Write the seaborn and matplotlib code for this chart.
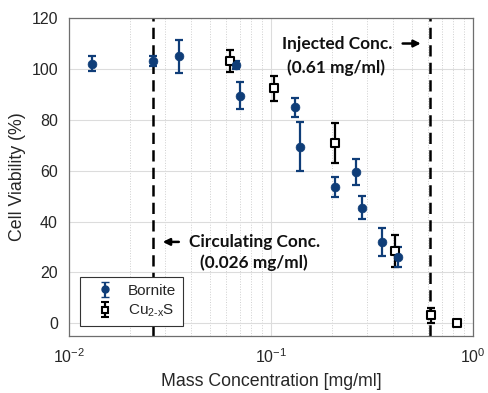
import numpy as np
import pandas as pd
import matplotlib
matplotlib.use('Agg')
import matplotlib.pyplot as plt
import seaborn as sns

# data
bornite_conc = [0.013, 0.026, 0.035, 0.067, 0.070, 0.131, 0.139, 0.208, 0.263, 0.283, 0.353, 0.427]
bornite_via = [102, 103, 105, 101.5, 89.5, 85, 69.5, 53.5, 59.5, 45.5, 32, 26]
bornite_err = [3, 2, 6.5, 1.5, 5.3, 3.7, 9.8, 4, 5, 4.5, 5.5, 4]

cu_conc = [0.0627, 0.104, 0.207, 0.411, 0.62, 0.83]
cu_via = [103, 92.4, 71, 28.5, 3.2, 0]
cu_err = [4.3, 5, 7.8, 6.3, 3, 1]

circ_conc = 0.026
inj_conc = 0.61

blue = '#0f3d78'

sns.set_theme(style='whitegrid')
plt.rcParams['font.family'] = ['Liberation Sans', 'DejaVu Sans']
plt.rcParams['mathtext.fontset'] = 'custom'
plt.rcParams['mathtext.rm'] = 'Liberation Sans'
plt.rcParams['mathtext.it'] = 'Liberation Sans:italic'

df = pd.concat([
    pd.DataFrame({'conc': bornite_conc, 'via': bornite_via, 'err': bornite_err, 'mat': 'Bornite'}),
    pd.DataFrame({'conc': cu_conc, 'via': cu_via, 'err': cu_err, 'mat': 'Cu'}),
])

fig = plt.figure(figsize=(4.88, 3.93), dpi=100)
ax = fig.add_axes([0.1414, 0.145, 0.8276, 0.809])

# dashed reference lines
ax.axvline(circ_conc, color='black', lw=1.8, ls=(0, (4.5, 2.5)), zorder=1)
ax.axvline(inj_conc, color='black', lw=1.8, ls=(0, (4.5, 2.5)), zorder=1)

# error bars
b = df[df['mat'] == 'Bornite']
c = df[df['mat'] == 'Cu']
ax.errorbar(c['conc'], c['via'], yerr=c['err'], fmt='none', ecolor='black', elinewidth=1.6, capsize=3, capthick=1.6, zorder=2)
ax.errorbar(b['conc'], b['via'], yerr=b['err'], fmt='none', ecolor=blue, elinewidth=1.6, capsize=3, capthick=1.6, zorder=3)

# markers
sns.scatterplot(data=c, x='conc', y='via', marker='s', s=32, facecolor='white', edgecolor='black', linewidth=1.5, ax=ax, zorder=4, legend=False)
sns.scatterplot(data=b, x='conc', y='via', marker='o', s=40, color=blue, edgecolor=blue, linewidth=0.5, ax=ax, zorder=5, legend=False)

ax.set_xscale('log')
ax.set_xlim(0.01, 1)
ax.set_ylim(-5, 120)
ax.set_yticks(np.arange(0, 121, 20))
ax.set_xticks([0.01, 0.1, 1])
ax.grid(True, which='major', color='#dcdcdc', lw=0.8, ls='-')
ax.grid(True, which='minor', axis='x', color='#cfcfcf', lw=0.7, ls=':')
for s in ax.spines.values():
    s.set_color('#6e6e6e')
    s.set_linewidth(0.9)
ax.tick_params(labelsize=11.5, colors='#262626', pad=2)

ax.set_xlabel('Mass Concentration [mg/ml]', fontsize=12.8, color='#262626', labelpad=5)
ax.set_ylabel('Cell Viability (%)', fontsize=12.8, color='#262626', labelpad=4)

# annotations
bold = dict(fontsize=12.4, fontweight='bold', family=['Lato', 'DejaVu Sans'], color='#111111')
ax.text(0.113, 110, 'Injected Conc.', ha='left', va='center', **bold)
ax.text(0.21, 100.5, '(0.61 mg/ml)', ha='center', va='center', **bold)
ax.annotate('', xy=(0.57, 110), xytext=(0.435, 110),
            arrowprops=dict(arrowstyle='-|>', color='black', lw=1.8, mutation_scale=10))
ax.text(0.0393, 32, 'Circulating Conc.', ha='left', va='center', **bold)
ax.text(0.0824, 24, '(0.026 mg/ml)', ha='center', va='center', **bold)
ax.annotate('', xy=(0.0282, 32), xytext=(0.0361, 32),
            arrowprops=dict(arrowstyle='-|>', color='black', lw=1.8, mutation_scale=10))

# legend
h1 = ax.errorbar([np.nan], [np.nan], yerr=[1], fmt='o', color=blue, ms=5, elinewidth=1.6, capsize=3, label='Bornite')
h2 = ax.errorbar([np.nan], [np.nan], yerr=[1], fmt='s', color='black', mfc='white', ms=5, mew=1.5, elinewidth=1.6, capsize=3,
                 label=r'Cu$_{\mathregular{2\text{-}x}}$S')
leg = ax.legend(handles=[h1, h2], loc='lower left', bbox_to_anchor=(0.027, 0.031), borderaxespad=0,
                fancybox=False, edgecolor='#333333', framealpha=1, fontsize=11, handlelength=2.35,
                handletextpad=0.35, borderpad=0.45, labelspacing=0.35)
leg.get_frame().set_linewidth(0.8)

fig.savefig('out.png', dpi=100)
